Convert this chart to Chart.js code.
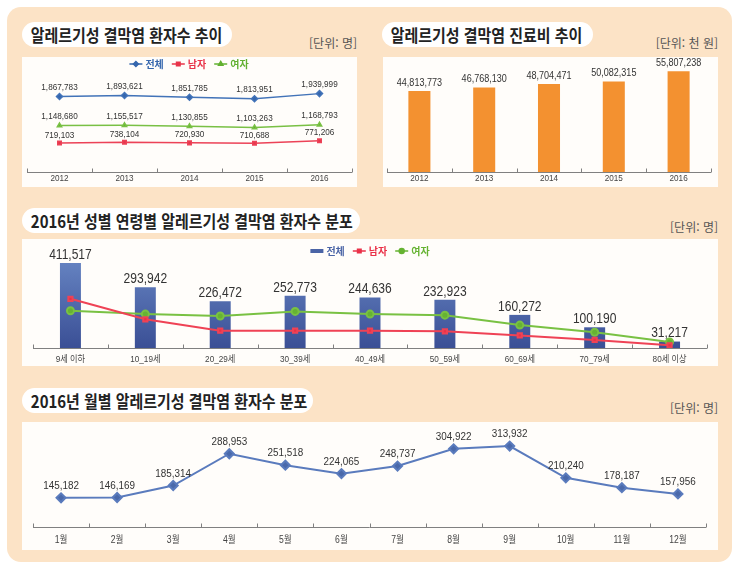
<!DOCTYPE html>
<html lang="ko">
<head>
<meta charset="UTF-8">
<title>알레르기성 결막염 환자수 및 진료비</title>
<script src="https://cdn.jsdelivr.net/npm/chart.js@4.4.1/dist/chart.umd.min.js"></script>
<style>
  body { margin: 0; width: 743px; height: 571px; position: relative; overflow: hidden; background: #fff;
         font-family: 'Noto Sans CJK KR', sans-serif; }
  .frame { position: absolute; left: 7px; top: 7px; width: 725px; height: 555px; background: #fce3c6; border-radius: 14px; }
  .pill { position: absolute; height: 25px; background: #fff; border-radius: 13px; overflow: hidden; white-space: nowrap; }
  .pill span { display: inline-block; font-size: 17px; font-weight: 700; color: #222; line-height: 25px;
               padding-left: 10px; transform: scaleX(0.88); transform-origin: left center; }
  .unit { position: absolute; font-size: 12px; color: #555; text-align: right; width: 120px; line-height: 14px; }
  .plot { position: absolute; background: #fffdfa; }
  .plot canvas { display: block; }
</style>
</head>
<body>
<div class="frame"></div>

<div class="pill" style="left:22px; top:22px; width:210px;"><span>알레르기성 결막염 환자수 추이</span></div>
<div class="unit" style="left:237px; top:36px;">[단위: 명]</div>
<div class="plot" style="left:22px; top:57px; width:335px; height:130px;"><canvas id="trendChart" width="335" height="130"></canvas></div>

<div class="pill" style="left:382px; top:22px; width:211px;"><span>알레르기성 결막염 진료비 추이</span></div>
<div class="unit" style="left:598px; top:36px;">[단위: 천 원]</div>
<div class="plot" style="left:383px; top:57px; width:335px; height:130px;"><canvas id="costChart" width="335" height="130"></canvas></div>

<div class="pill" style="left:22px; top:208px; width:338px;"><span>2016년 성별 연령별 알레르기성 결막염 환자수 분포</span></div>
<div class="unit" style="left:598px; top:220px;">[단위: 명]</div>
<div class="plot" style="left:22px; top:239px; width:696px; height:127px;"><canvas id="ageChart" width="696" height="127"></canvas></div>

<div class="pill" style="left:22px; top:388px; width:291px;"><span>2016년 월별 알레르기성 결막염 환자수 분포</span></div>
<div class="unit" style="left:598px; top:401px;">[단위: 명]</div>
<div class="plot" style="left:22px; top:422px; width:696px; height:128px;"><canvas id="monthChart" width="696" height="128"></canvas></div>

<script>
// ---- data ----
const years = ['2012', '2013', '2014', '2015', '2016'];
const totalPatients = [1867783, 1893621, 1851785, 1813951, 1939999];
const malePatients = [719103, 738104, 720930, 710688, 771206];
const femalePatients = [1148680, 1155517, 1130855, 1103263, 1168793];
const treatmentCost = [44813773, 46768130, 48704471, 50082315, 55807238];

const ageGroups = ['9세 이하', '10_19세', '20_29세', '30_39세', '40_49세', '50_59세', '60_69세', '70_79세', '80세 이상'];
const ageTotal = [411517, 293942, 226472, 252773, 244636, 232923, 160272, 100190, 31217];
// lines are unlabelled in the original, values estimated from their position
const ageMale = [238000, 139000, 84000, 84000, 84000, 81000, 61000, 39000, 13000];
const ageFemale = [180000, 164000, 155000, 177000, 164000, 159000, 111000, 76000, 29000];

const months = ['1월', '2월', '3월', '4월', '5월', '6월', '7월', '8월', '9월', '10월', '11월', '12월'];
const monthlyPatients = [145182, 146169, 185314, 288953, 251518, 224065, 248737, 304922, 313932, 210240, 178187, 157956];

const NUM_FONT = "'Liberation Sans', 'Noto Sans CJK KR', sans-serif";
const SQUEEZE = 0.86;   // the original uses a condensed face
Chart.defaults.animation = false;

const fmt = v => v.toLocaleString('en-US');

function squeezedText(ctx, text, x, y) {
  ctx.save();
  ctx.translate(x, y);
  ctx.scale(SQUEEZE, 1);
  ctx.fillText(text, 0, 0);
  ctx.restore();
}

// value labels above points / bars
const valueLabels = {
  id: 'valueLabels',
  afterDatasetsDraw(chart) {
    const ctx = chart.ctx;
    chart.data.datasets.forEach((ds, i) => {
      if (!ds.labelSize) return;
      const meta = chart.getDatasetMeta(i);
      ctx.save();
      ctx.font = ds.labelSize + 'px ' + NUM_FONT;
      ctx.fillStyle = '#333';
      ctx.textAlign = 'center';
      ctx.textBaseline = 'middle';
      meta.data.forEach((el, j) => squeezedText(ctx, fmt(ds.data[j]), el.x, el.y - ds.labelGap));
      ctx.restore();
    });
  }
};

// x axis: line, small upward ticks at category borders, category names
const categoryAxis = {
  id: 'categoryAxis',
  beforeDatasetsDraw(chart, args, opts) {
    const x = chart.scales.x, ctx = chart.ctx;
    const n = chart.data.labels.length, y = Math.round(x.top) + 0.5;
    ctx.save();
    ctx.strokeStyle = '#808080';
    ctx.lineWidth = 1;
    ctx.beginPath();
    ctx.moveTo(x.left, y); ctx.lineTo(x.right, y);
    for (let k = 0; k <= n; k++) {
      const px = Math.round(x.left + k * x.width / n) + 0.5;
      ctx.moveTo(px, y); ctx.lineTo(px, y - 4);
    }
    ctx.stroke();
    ctx.font = opts.size + 'px ' + NUM_FONT;
    ctx.fillStyle = '#444';
    ctx.textAlign = 'center';
    ctx.textBaseline = 'middle';
    chart.data.labels.forEach((lab, i) => squeezedText(ctx, lab, x.getPixelForValue(i), y + opts.gap));
    ctx.restore();
  }
};

// small legend drawn from the datasets
const seriesLegend = {
  id: 'seriesLegend',
  afterDraw(chart, args, opts) {
    if (!opts.font) return;
    const ctx = chart.ctx;
    ctx.save();
    ctx.font = opts.font;
    ctx.textBaseline = 'middle';
    const items = chart.data.datasets.map(ds => ({ ds, w: 16 + ctx.measureText(ds.label).width }));
    const total = items.reduce((s, it) => s + it.w, 0) + opts.gap * (items.length - 1);
    let x = opts.x - total / 2;
    const y = opts.y;
    items.forEach(({ ds, w }) => {
      const color = ds.legendColor;
      const isLine = ds.type === 'line' || chart.config.type === 'line';
      ctx.fillStyle = color;
      ctx.strokeStyle = color;
      if (isLine) {
        ctx.lineWidth = 1.5;
        ctx.beginPath(); ctx.moveTo(x, y); ctx.lineTo(x + 13, y); ctx.stroke();
        Chart.helpers.drawPoint(ctx, { pointStyle: ds.pointStyle, radius: 2.5, borderWidth: 1, rotation: 0 }, x + 6.5, y);
      } else {
        ctx.fillRect(x, y - 2, 13, 4);
      }
      ctx.fillText(ds.label, x + 16, y + 0.5);
      x += w + opts.gap;
    });
    ctx.restore();
  }
};

Chart.register(valueLabels, categoryAxis, seriesLegend);

// category scale; its names are drawn by categoryAxis, so the scale takes no height
const baseX = {
  offset: true,
  grid: { display: false, drawTicks: false },
  border: { display: false },
  ticks: { display: false },
  afterFit: s => { s.height = 0; }
};

// ---- 1: patients by year ----
new Chart(document.getElementById('trendChart'), {
  type: 'line',
  data: {
    labels: years,
    datasets: [
      { label: '전체', data: totalPatients, borderColor: '#4273b8', backgroundColor: '#3566ad', legendColor: '#3566ad',
        borderWidth: 1.5, pointStyle: 'rectRot', pointRadius: 3, labelSize: 9.5, labelGap: 9 },
      { label: '남자', data: malePatients, borderColor: '#ec4257', backgroundColor: '#e8344a', legendColor: '#e8344a',
        borderWidth: 1.5, pointStyle: 'rect', pointRadius: 2.5, labelSize: 9.5, labelGap: 8 },
      { label: '여자', data: femalePatients, borderColor: '#79c044', backgroundColor: '#62b030', legendColor: '#62b030',
        borderWidth: 1.5, pointStyle: 'triangle', pointRadius: 2.5, labelSize: 9.5, labelGap: 9 }
    ]
  },
  options: {
    responsive: false,
    layout: { autoPadding: false, padding: { left: 5, right: 5, top: 14, bottom: 15 } },
    scales: { x: baseX, y: { display: false, min: 0, max: 2500000 } },
    plugins: {
      legend: { display: false }, tooltip: { enabled: false },
      categoryAxis: { size: 9.5, gap: 6 },
      seriesLegend: { font: "bold 10px 'Noto Sans CJK KR', sans-serif", x: 167, y: 7, gap: 8 }
    }
  }
});

// ---- 2: treatment cost by year ----
new Chart(document.getElementById('costChart'), {
  type: 'bar',
  data: {
    labels: years,
    datasets: [
      { label: '진료비', data: treatmentCost, backgroundColor: '#f39130', categoryPercentage: 1, barPercentage: 0.34,
        labelSize: 10.5, labelGap: 8 }
    ]
  },
  options: {
    responsive: false,
    layout: { autoPadding: false, padding: { left: 4, right: 7, top: 12, bottom: 15 } },
    scales: { x: baseX, y: { display: false, min: 0, max: 57000000 } },
    plugins: {
      legend: { display: false }, tooltip: { enabled: false },
      categoryAxis: { size: 9.5, gap: 6 }
    }
  }
});

// ---- 3: 2016 by age and sex ----
const barGradient = c => {
  const { ctx, chartArea } = c.chart;
  if (!chartArea) return '#4e6eb0';
  const g = ctx.createLinearGradient(0, chartArea.top, 0, chartArea.bottom);
  g.addColorStop(0, '#6886c4');
  g.addColorStop(1, '#3a4f95');
  return g;
};

new Chart(document.getElementById('ageChart'), {
  type: 'bar',
  data: {
    labels: ageGroups,
    datasets: [
      { label: '전체', data: ageTotal, backgroundColor: barGradient, legendColor: '#4a64a6', order: 2,
        categoryPercentage: 1, barPercentage: 0.28, labelSize: 14, labelGap: 8 },
      { type: 'line', label: '남자', data: ageMale, borderColor: '#ef4255', backgroundColor: '#ea3148', legendColor: '#ea3148',
        order: 1, borderWidth: 2, pointStyle: 'rect', pointRadius: 3 },
      { type: 'line', label: '여자', data: ageFemale, borderColor: '#79c143', backgroundColor: '#66b332', legendColor: '#66b332',
        order: 1, borderWidth: 2, pointStyle: 'circle', pointRadius: 3.5 }
    ]
  },
  options: {
    responsive: false,
    layout: { autoPadding: false, padding: { left: 11, right: 11, top: 16, bottom: 18 } },
    scales: { x: baseX, y: { display: false, min: 0, max: 450000 } },
    plugins: {
      legend: { display: false }, tooltip: { enabled: false },
      categoryAxis: { size: 9.5, gap: 10.5 },
      seriesLegend: { font: "bold 10px 'Noto Sans CJK KR', sans-serif", x: 348, y: 12, gap: 8 }
    }
  }
});

// ---- 4: 2016 by month ----
new Chart(document.getElementById('monthChart'), {
  type: 'line',
  data: {
    labels: months,
    datasets: [
      { label: '환자수', data: monthlyPatients, borderColor: '#5a7bbd', backgroundColor: '#4a69aa', borderWidth: 2,
        pointStyle: 'rectRot', pointRadius: 4.5, labelSize: 11.5, labelGap: 12 }
    ]
  },
  options: {
    responsive: false,
    layout: { autoPadding: false, padding: { left: 11, right: 12, top: 13, bottom: 23 } },
    scales: { x: baseX, y: { display: false, min: 50000, max: 350000 } },
    plugins: {
      legend: { display: false }, tooltip: { enabled: false },
      categoryAxis: { size: 10, gap: 13 }
    }
  }
});
</script>
</body>
</html>
